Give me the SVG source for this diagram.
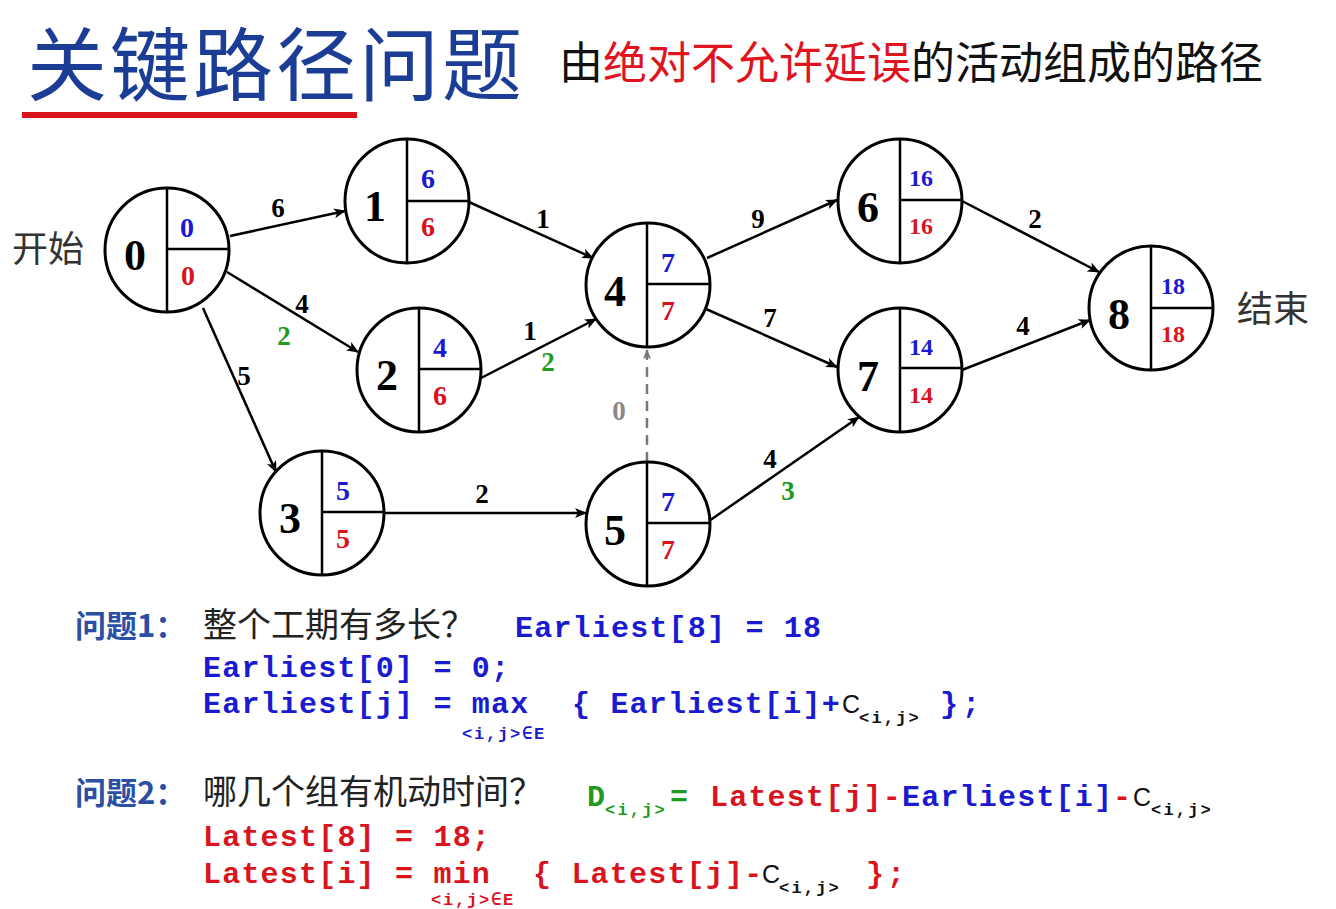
<svg xmlns="http://www.w3.org/2000/svg" width="1336" height="909" viewBox="0 0 1336 909">
<defs>
<marker id="arr" viewBox="0 0 12 10" refX="11" refY="5" markerWidth="12" markerHeight="10" markerUnits="userSpaceOnUse" orient="auto">
<path d="M0,0 L12,5 L0,10 L3,5 z" fill="#000"/>
</marker>
<marker id="arrg" viewBox="0 0 12 10" refX="11" refY="5" markerWidth="10" markerHeight="9" markerUnits="userSpaceOnUse" orient="auto">
<path d="M0,0 L12,5 L0,10 L3,5 z" fill="#777"/>
</marker>
</defs>
<style>
.c{fill:#fff;stroke:#000;stroke-width:3}
.d{stroke:#000;stroke-width:2.5}
.num{font-family:"Liberation Serif","Times New Roman",serif;font-weight:bold;font-size:44px;fill:#000;text-anchor:middle}
.v{font-family:"Liberation Serif","Times New Roman",serif;font-weight:bold;font-size:28px;text-anchor:middle}
.v2{font-family:"Liberation Serif","Times New Roman",serif;font-weight:bold;font-size:24px;text-anchor:middle}
.e{stroke:#000;stroke-width:2.5;fill:none;marker-end:url(#arr)}
.el{font-family:"Liberation Serif","Times New Roman",serif;font-weight:bold;font-size:27px;text-anchor:middle;fill:#000}
.cjk{font-family:"Noto Sans CJK SC",sans-serif}
.code{font-family:"Liberation Mono","Courier New",monospace;font-weight:bold;font-size:30px;letter-spacing:1.2px}
.sub{font-family:"Liberation Mono","Courier New",monospace;font-weight:bold;font-size:17px;letter-spacing:2.2px}
.cc{font-family:"Liberation Sans",Arial,sans-serif;font-size:25px;fill:#111}
.b{fill:#1a1ad0}
.r{fill:#d9141e}
.g{fill:#1f9a1f}
.gr{fill:#888}
</style>
<rect width="1336" height="909" fill="#fff"/>

<g id="title">
<text x="27" y="94" class="cjk" font-size="80" letter-spacing="3" fill="#1b3d95">关键路径问题</text>
<rect x="22" y="112" width="335" height="6" fill="#d9131a"/>
<text x="559" y="79" class="cjk" font-size="44" fill="#111">由<tspan fill="#e0141e">绝对不允许延误</tspan>的活动组成的路径</text>
</g>

<g id="connectors">
<line class="e" x1="230" y1="236" x2="345" y2="211"/>
<line class="e" x1="227" y1="272" x2="358" y2="352"/>
<line class="e" x1="203" y1="308" x2="276" y2="472"/>
<line class="e" x1="469" y1="202" x2="593" y2="258"/>
<line class="e" x1="481" y1="378" x2="596" y2="319"/>
<line class="e" x1="384" y1="513" x2="586" y2="513"/>
<line x1="647" y1="462" x2="647" y2="350" stroke="#777" stroke-width="2.5" stroke-dasharray="10,7" marker-end="url(#arrg)"/>
<line class="e" x1="707" y1="258" x2="837" y2="200"/>
<line class="e" x1="706" y1="309" x2="837" y2="367"/>
<line class="e" x1="709" y1="521" x2="859" y2="417"/>
<line class="e" x1="962" y1="201" x2="1099" y2="272"/>
<line class="e" x1="962" y1="370" x2="1090" y2="320"/>
<text class="el" x="278" y="217">6</text>
<text class="el" x="302" y="313">4</text>
<text class="el g" x="284" y="345">2</text>
<text class="el" x="244" y="385">5</text>
<text class="el" x="543" y="228">1</text>
<text class="el" x="530" y="340">1</text>
<text class="el g" x="548" y="371">2</text>
<text class="el" x="482" y="503">2</text>
<text class="el gr" x="619" y="420">0</text>
<text class="el" x="758" y="228">9</text>
<text class="el" x="770" y="327">7</text>
<text class="el" x="770" y="468">4</text>
<text class="el g" x="788" y="500">3</text>
<text class="el" x="1035" y="228">2</text>
<text class="el" x="1023" y="335">4</text>
</g>

<g id="node0">
<circle class="c" cx="167" cy="250" r="62"/>
<line class="d" x1="167" y1="188" x2="167" y2="312"/>
<line class="d" x1="167" y1="249" x2="229" y2="249"/>
<text class="num" x="135" y="270">0</text>
<text class="v b" x="187" y="237">0</text>
<text class="v r" x="188" y="285">0</text>
</g>
<g id="node1">
<circle class="c" cx="407" cy="201" r="62"/>
<line class="d" x1="407" y1="139" x2="407" y2="263"/>
<line class="d" x1="407" y1="201" x2="469" y2="201"/>
<text class="num" x="375" y="221">1</text>
<text class="v b" x="428" y="188">6</text>
<text class="v r" x="428" y="236">6</text>
</g>
<g id="node2">
<circle class="c" cx="419" cy="370" r="62"/>
<line class="d" x1="419" y1="308" x2="419" y2="432"/>
<line class="d" x1="419" y1="369" x2="481" y2="369"/>
<text class="num" x="387" y="390">2</text>
<text class="v b" x="440" y="357">4</text>
<text class="v r" x="440" y="405">6</text>
</g>
<g id="node3">
<circle class="c" cx="322" cy="513" r="62"/>
<line class="d" x1="322" y1="451" x2="322" y2="575"/>
<line class="d" x1="322" y1="512" x2="384" y2="512"/>
<text class="num" x="290" y="533">3</text>
<text class="v b" x="343" y="500">5</text>
<text class="v r" x="343" y="548">5</text>
</g>
<g id="node4">
<circle class="c" cx="648" cy="285" r="62"/>
<line class="d" x1="647" y1="223" x2="647" y2="347"/>
<line class="d" x1="647" y1="284" x2="710" y2="284"/>
<text class="num" x="615" y="306">4</text>
<text class="v b" x="668" y="272">7</text>
<text class="v r" x="668" y="320">7</text>
</g>
<g id="node5">
<circle class="c" cx="648" cy="524" r="62"/>
<line class="d" x1="647" y1="462" x2="647" y2="586"/>
<line class="d" x1="647" y1="523" x2="710" y2="523"/>
<text class="num" x="615" y="545">5</text>
<text class="v b" x="668" y="511">7</text>
<text class="v r" x="668" y="559">7</text>
</g>
<g id="node6">
<circle class="c" cx="900" cy="201" r="62"/>
<line class="d" x1="900" y1="139" x2="900" y2="263"/>
<line class="d" x1="900" y1="200" x2="962" y2="200"/>
<text class="num" x="868" y="222">6</text>
<text class="v2 b" x="921" y="186">16</text>
<text class="v2 r" x="921" y="234">16</text>
</g>
<g id="node7">
<circle class="c" cx="900" cy="370" r="62"/>
<line class="d" x1="900" y1="308" x2="900" y2="432"/>
<line class="d" x1="900" y1="368" x2="962" y2="368"/>
<text class="num" x="868" y="391">7</text>
<text class="v2 b" x="921" y="355">14</text>
<text class="v2 r" x="921" y="403">14</text>
</g>
<g id="node8">
<circle class="c" cx="1151" cy="308" r="62"/>
<line class="d" x1="1151" y1="246" x2="1151" y2="370"/>
<line class="d" x1="1151" y1="308" x2="1213" y2="308"/>
<text class="num" x="1119" y="329">8</text>
<text class="v2 b" x="1173" y="294">18</text>
<text class="v2 r" x="1173" y="342">18</text>
</g>

<g id="labels">
<text x="12" y="262" class="cjk" font-size="36" fill="#333">开始</text>
<text x="1237" y="322" class="cjk" font-size="36" fill="#333">结束</text>
</g>

<g id="q1">
<text x="75" y="637" class="cjk" font-size="31" font-weight="bold" fill="#2b4fa5">问题1：</text>
<text x="203" y="637" class="cjk" font-size="34" fill="#222">整个工期有多长？</text>
<text x="515" y="637" class="code b">Earliest[8] = 18</text>
<text x="203" y="677" class="code b">Earliest[0] = 0;</text>
<text x="203" y="713" class="code b">Earliest[j] = max</text>
<text x="572" y="713" class="code b">{ Earliest[i]+</text>
<text x="842" y="713" class="cc">C</text>
<text x="859" y="723" class="sub" fill="#111">&lt;i,j&gt;</text>
<text x="940" y="713" class="code b" style="letter-spacing:4px">};</text>
<text x="462" y="739" class="sub b" style="letter-spacing:1.8px">&lt;i,j&gt;∈E</text>
</g>

<g id="q2">
<text x="75" y="804" class="cjk" font-size="31" font-weight="bold" fill="#2b4fa5">问题2：</text>
<text x="203" y="804" class="cjk" font-size="34" fill="#222">哪几个组有机动时间？</text>
<text x="587" y="806" class="code g">D</text>
<text x="605" y="815" class="sub g">&lt;i,j&gt;</text>
<text x="670" y="806" class="code g">=</text>
<text x="710" y="806" class="code r">Latest[j]-</text>
<text x="902" y="806" class="code b">Earliest[i]</text>
<text x="1113" y="806" class="code r">-</text>
<text x="1133" y="806" class="cc">C</text>
<text x="1151" y="815" class="sub" fill="#111">&lt;i,j&gt;</text>
<text x="203" y="846" class="code r">Latest[8] = 18;</text>
<text x="203" y="883" class="code r">Latest[i] = min</text>
<text x="533" y="883" class="code r">{ Latest[j]-</text>
<text x="762" y="883" class="cc">C</text>
<text x="779" y="893" class="sub" fill="#111">&lt;i,j&gt;</text>
<text x="866" y="883" class="code r" style="letter-spacing:3px">};</text>
<text x="431" y="905" class="sub r" style="letter-spacing:1.8px">&lt;i,j&gt;∈E</text>
</g>
</svg>
